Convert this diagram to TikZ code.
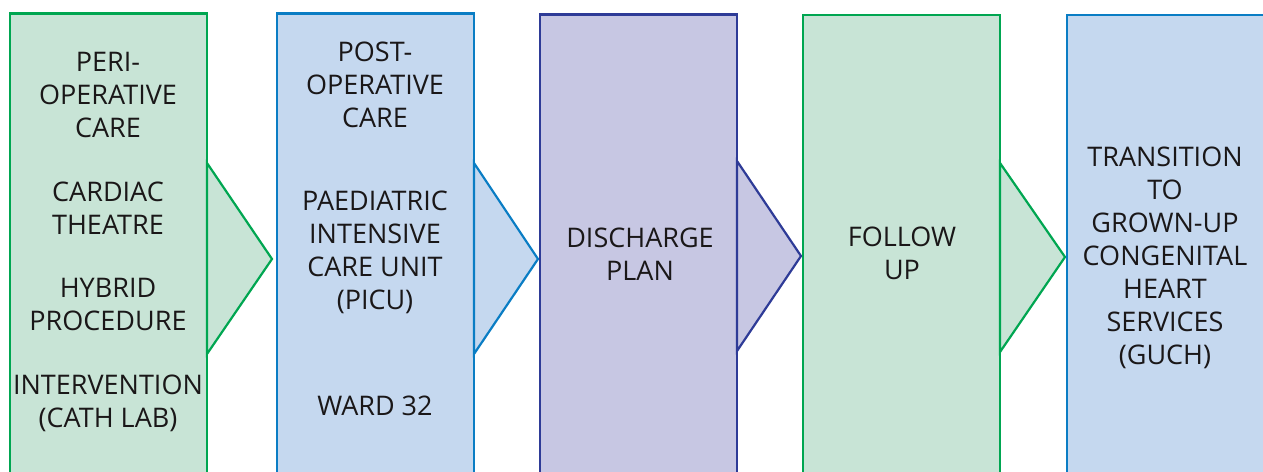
\documentclass[tikz,border=0pt]{standalone}
\usepackage{fontspec}
\setmainfont{Open Sans}
\usetikzlibrary{positioning}
\definecolor{grnfill}{HTML}{C8E4D6}
\definecolor{grnline}{HTML}{00A651}
\definecolor{bluefill}{HTML}{C5D8EF}
\definecolor{blueline}{HTML}{0A7DC4}
\definecolor{purpfill}{HTML}{C7C7E3}
\definecolor{purpline}{HTML}{2E3B97}
\definecolor{txtgray}{HTML}{1A1718}

\begin{document}
\begin{tikzpicture}[x=1pt, y=-1pt,
  every node/.style={inner sep=0pt, outer sep=0pt, align=center, text=txtgray,
    font=\fontsize{27}{33}\selectfont},
  greenbox/.style={draw=grnline, fill=grnfill, line width=2.2pt},
  bluebox/.style={draw=blueline, fill=bluefill, line width=2.2pt},
  purplebox/.style={draw=purpline, fill=purpfill, line width=2.2pt},
  node distance=44pt]
  \useasboundingbox (0,0) rectangle (1263,471);
  \clip (0,0) rectangle (1263,471);
  % stage boxes, each with its pointer on the right
  \draw[greenbox] (10,13.5) rectangle (207,490);
  \draw[greenbox] (207,163) -- (272,259) -- (207,354) -- cycle;
  \draw[bluebox] (277,13.5) rectangle (474,490);
  \draw[bluebox] (474,163) -- (538,259) -- (474,354) -- cycle;
  \draw[purplebox] (540,14.5) rectangle (737,490);
  \draw[purplebox] (737,161) -- (801,256) -- (737,351) -- cycle;
  \draw[greenbox] (803,15) rectangle (1000,490);
  \draw[greenbox] (1000,163) -- (1065,257) -- (1000,352) -- cycle;
  \draw[bluebox] (1067,15) rectangle (1280,490);
  % texts
  \node (peri) at (108,95) {PERI-\\OPERATIVE\\CARE};
  \node (theatre) [below=of peri] {CARDIAC\\THEATRE};
  \node (hybrid) [below=of theatre] {HYBRID\\PROCEDURE};
  \node (cathlab) [below=of hybrid] {INTERVENTION\\(CATH LAB)};
  \node (postop) at (375,85) {POST-\\OPERATIVE\\CARE};
  \node (picu) [below=63pt of postop] {PAEDIATRIC\\INTENSIVE\\CARE UNIT\\(PICU)};
  \node (ward) at (375,406) {WARD 32};
  \node (discharge) at (640,254) {DISCHARGE\\PLAN};
  \node (followup) at (902,253.5) {FOLLOW\\UP};
  \node (guch) at (1165,257.5) {TRANSITION\\TO\\GROWN-UP\\CONGENITAL\\HEART\\SERVICES\\(GUCH)};
\end{tikzpicture}
\end{document}
